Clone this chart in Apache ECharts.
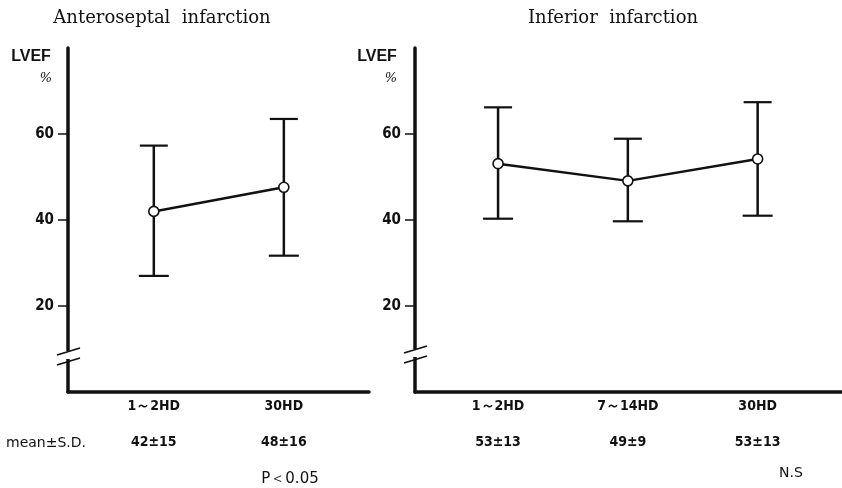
<!DOCTYPE html>
<html>
<head>
<meta charset="utf-8">
<script src="https://cdn.jsdelivr.net/npm/echarts@6/dist/echarts.min.js"></script>
<style>html,body{margin:0;padding:0;background:#fff}#c{width:842px;height:488px}</style>
</head>
<body>
<div id="c"></div>
<script>
// ---- data ----
const leftCats = ['1～2HD', '30HD'];
const leftMeanPlot = [42, 47.6];
const leftLow = [27, 31.7];
const leftHigh = [57.3, 63.5];
const leftMeanLabel = [42, 48];
const leftSdLabel = [15, 16];

const rightCats = ['1～2HD', '7～14HD', '30HD'];
const rightMeanPlot = [53.1, 49.1, 54.2];
const rightLow = [40.3, 39.7, 41.0];
const rightHigh = [66.2, 58.9, 67.4];
const rightMeanLabel = [53, 49, 53];
const rightSdLabel = [13, 9, 13];

const yTicks = [20, 40, 60];

// ---- styles ----
const COND = '"DejaVu Sans Condensed", "Liberation Sans Narrow", "Liberation Sans", sans-serif';
const SANS = '"DejaVu Sans", "Liberation Sans", sans-serif';
const SERIF = '"DejaVu Serif", "Liberation Serif", serif';
const BLACK = '#111';

const chart = echarts.init(document.getElementById('c'), null, {renderer: 'canvas'});

function idx(n) { return Array.from({length: n}, (_, i) => i + 1); }

function xCatAxis(gi, min, max, cats) {
  return {
    type: 'value', gridIndex: gi, min: min, max: max,
    axisLine: {show: true, onZero: false, lineStyle: {color: BLACK, width: 3.5}},
    axisTick: {show: false},
    splitLine: {show: false},
    axisLabel: {
      customValues: idx(cats.length), margin: 7,
      formatter: v => cats[Math.round(v) - 1] || '',
      fontFamily: COND, fontSize: 14, fontWeight: 'bold', color: BLACK
    }
  };
}
function xStatAxis(gi, min, max, means, sds) {
  return {
    type: 'value', gridIndex: gi, min: min, max: max, position: 'bottom', offset: 36,
    axisLine: {show: false}, axisTick: {show: false}, splitLine: {show: false},
    axisLabel: {
      customValues: idx(means.length), margin: 7,
      formatter: v => { const i = Math.round(v) - 1; return means[i] + '±' + sds[i]; },
      fontFamily: COND, fontSize: 14, fontWeight: 'bold', color: BLACK
    }
  };
}
function yAx(gi) {
  return {
    type: 'value', gridIndex: gi, min: 0, max: 80, interval: 20,
    axisLine: {show: true, lineStyle: {color: BLACK, width: 3.5}},
    axisTick: {show: true, customValues: yTicks, length: 10, lineStyle: {color: BLACK, width: 1.5}},
    splitLine: {show: false},
    axisLabel: {customValues: yTicks, margin: 14, fontFamily: COND, fontSize: 15, fontWeight: 'bold', color: BLACK}
  };
}

function errSeries(xi, yi, lows, highs) {
  return {
    type: 'custom', xAxisIndex: xi, yAxisIndex: yi, z: 2,
    data: lows.map((l, i) => [i + 1, l, highs[i]]),
    renderItem: (params, api) => {
      const x = api.value(0);
      const lo = api.coord([x, api.value(1)]);
      const hi = api.coord([x, api.value(2)]);
      const hw = 14;
      const st = {stroke: BLACK, lineWidth: 2.5};
      const cs = {stroke: BLACK, lineWidth: 2.2};
      return {type: 'group', children: [
        {type: 'line', shape: {x1: lo[0], y1: lo[1], x2: hi[0], y2: hi[1]}, style: st},
        {type: 'line', shape: {x1: hi[0] - hw, y1: hi[1], x2: hi[0] + hw, y2: hi[1]}, style: cs},
        {type: 'line', shape: {x1: lo[0] - hw - 1, y1: lo[1], x2: lo[0] + hw + 1, y2: lo[1]}, style: cs}
      ]};
    }
  };
}
function meanSeries(xi, yi, means) {
  return {
    type: 'line', xAxisIndex: xi, yAxisIndex: yi, z: 5,
    data: means.map((m, i) => [i + 1, m]),
    symbol: 'circle', symbolSize: 10,
    itemStyle: {color: '#fff', borderColor: BLACK, borderWidth: 1.6},
    lineStyle: {color: BLACK, width: 2.5},
    animation: false
  };
}

function breakMarks(ax, y1, y2) {
  return [
    {type: 'rect', shape: {x: ax - 3, y: y1 - 1, width: 6, height: 8}, style: {fill: '#fff'}, z: 100},
    {type: 'line', shape: {x1: ax - 11, y1: y1 + 3, x2: ax + 12, y2: y1 - 4}, style: {stroke: BLACK, lineWidth: 1.8}, z: 101},
    {type: 'line', shape: {x1: ax - 11, y1: y2 + 3, x2: ax + 12, y2: y2 - 4}, style: {stroke: BLACK, lineWidth: 1.8}, z: 101}
  ];
}

const txt = (x, y, s, font, align) => ({
  type: 'text', x: x, y: y, z: 50,
  style: {text: s, font: font, fill: BLACK, align: align || 'center', verticalAlign: 'middle'}
});

const option = {
  animation: false,
  backgroundColor: '#fff',
  grid: [
    {left: 68, top: 48, width: 301, height: 344},
    {left: 415, top: 48, width: 427, height: 344}
  ],
  xAxis: [
    xCatAxis(0, 0.34, 2.655, leftCats),
    xStatAxis(0, 0.34, 2.655, leftMeanLabel, leftSdLabel),
    xCatAxis(1, 0.36, 3.65, rightCats),
    xStatAxis(1, 0.36, 3.65, rightMeanLabel, rightSdLabel)
  ],
  yAxis: [yAx(0), yAx(1)],
  series: [
    errSeries(0, 0, leftLow, leftHigh),
    meanSeries(0, 0, leftMeanPlot),
    errSeries(2, 1, rightLow, rightHigh),
    meanSeries(2, 1, rightMeanPlot)
  ],
  graphic: [
    txt(162, 18, 'Anteroseptal  infarction', '18px ' + SERIF),
    txt(613, 18, 'Inferior  infarction', '18px ' + SERIF),
    txt(31, 57, 'LVEF', 'bold 16px "Liberation Sans", sans-serif'),
    txt(46, 79, '%', 'italic 13px ' + SERIF),
    txt(377, 57, 'LVEF', 'bold 16px "Liberation Sans", sans-serif'),
    txt(391, 79, '%', 'italic 13px ' + SERIF),
    txt(46, 443, 'mean±S.D.', '14px ' + SANS),
    txt(290, 479, 'P＜0.05', '15px ' + SANS),
    txt(791, 473, 'N.S', '14px ' + SANS),
    ...breakMarks(68, 352, 362),
    ...breakMarks(415, 350, 360)
  ]
};
chart.setOption(option);
</script>
</body>
</html>
